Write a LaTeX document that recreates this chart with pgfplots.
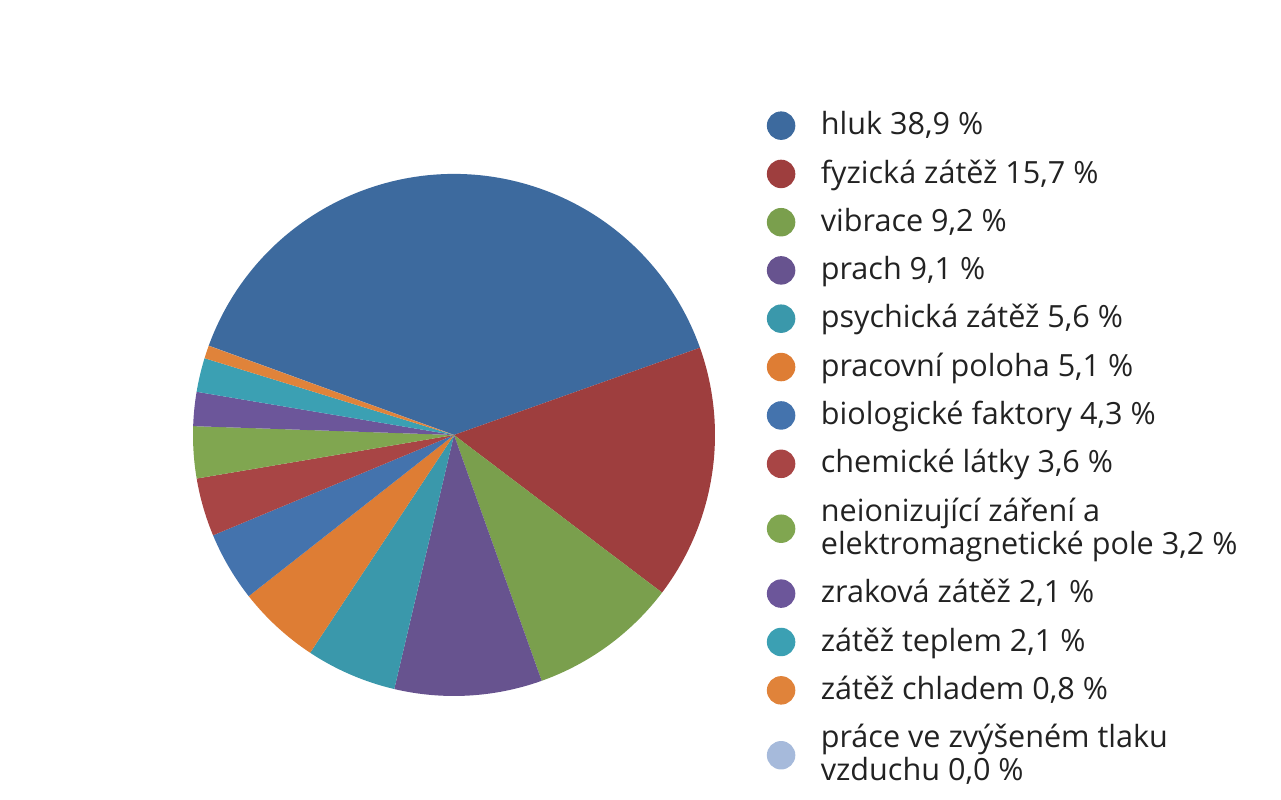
\documentclass[border=0pt]{standalone}
\usepackage{pgfplots}
\pgfplotsset{compat=1.18}
\usepackage{pgfplotstable}
\usepackage{fontspec}
\setmainfont{Open Sans}

\definecolor{c0}{HTML}{3D6A9E}
\definecolor{c1}{HTML}{9E3E3E}
\definecolor{c2}{HTML}{7A9F4D}
\definecolor{c3}{HTML}{67538F}
\definecolor{c4}{HTML}{3A98AB}
\definecolor{c5}{HTML}{DE7D34}
\definecolor{c6}{HTML}{4473AD}
\definecolor{c7}{HTML}{A84545}
\definecolor{c8}{HTML}{80A650}
\definecolor{c9}{HTML}{6C569A}
\definecolor{c10}{HTML}{3BA0B3}
\definecolor{c11}{HTML}{E0833A}
\definecolor{c12}{HTML}{A6BADB}
\definecolor{txt}{HTML}{222222}

% shares in percent, clockwise from the left edge
\pgfplotstableread{
v
38.9
15.7
9.2
9.1
5.6
5.1
4.3
3.6
3.2
2.1
2.1
0.8
0.0
}\piedata

\begin{document}
\begin{tikzpicture}
\path[use as bounding box] (0,0) rectangle (12.81cm,8cm);
\begin{axis}[
  at={(4.54cm,3.65cm)}, anchor=center,
  x=2.61cm, y=2.61cm,
  xmin=-1, xmax=1, ymin=-1, ymax=1,
  hide axis,
  legend style={
    at={(1.098,1.128)}, anchor=north west,
    draw=none, fill=none,
    font=\fontsize{8.7pt}{9.4pt}\selectfont,
    text=txt,
    row sep=3.6pt,
    inner sep=0pt,
    nodes={inner sep=1pt},
    /tikz/every odd column/.append style={column sep=0.22cm},
  },
  legend cell align=left,
  legend image code/.code={\fill[#1] (0pt,0pt) circle (3.85pt);},
]
\pgfmathsetmacro\startang{160}
\pgfplotstableforeachcolumnelement{v}\of\piedata\as\val{%
  \pgfmathsetmacro\endang{\startang-\val*360/99.7}%
  \edef\slice{\noexpand\fill[c\pgfplotstablerow] (axis cs:0,0) -- (axis cs:{cos(\startang)},{sin(\startang)}) arc[start angle=\startang, end angle=\endang, radius=1] -- cycle;}%
  \slice
  \global\let\startang\endang
}

\addlegendimage{c0}
\addlegendentry{hluk 38,9 \%}
\addlegendimage{c1}
\addlegendentry{fyzická zátěž 15,7 \%}
\addlegendimage{c2}
\addlegendentry{vibrace 9,2 \%}
\addlegendimage{c3}
\addlegendentry{prach 9,1 \%}
\addlegendimage{c4}
\addlegendentry{psychická zátěž 5,6 \%}
\addlegendimage{c5}
\addlegendentry{pracovní poloha 5,1 \%}
\addlegendimage{c6}
\addlegendentry{biologické faktory 4,3 \%}
\addlegendimage{c7}
\addlegendentry{chemické látky 3,6 \%}
\addlegendimage{c8}
\addlegendentry[align=left]{neionizující záření a\\elektromagnetické pole 3,2 \%}
\addlegendimage{c9}
\addlegendentry{zraková zátěž 2,1 \%}
\addlegendimage{c10}
\addlegendentry{zátěž teplem 2,1 \%}
\addlegendimage{c11}
\addlegendentry{zátěž chladem 0,8 \%}
\addlegendimage{c12}
\addlegendentry[align=left]{práce ve zvýšeném tlaku\\vzduchu 0,0 \%}
\end{axis}
\end{tikzpicture}
\end{document}
